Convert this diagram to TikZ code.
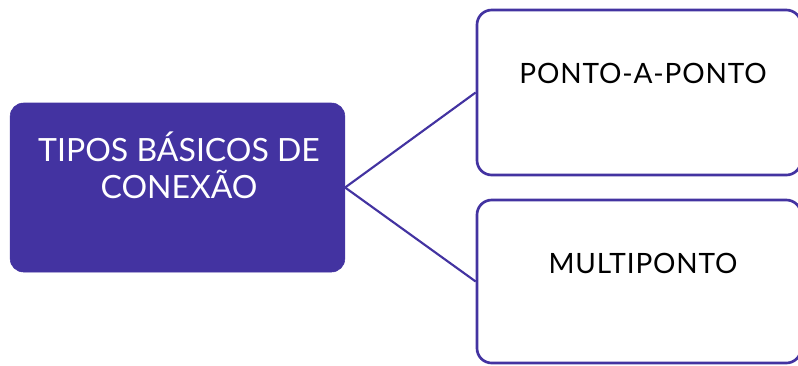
\documentclass[tikz,border=0pt]{standalone}
\usepackage{fontspec}
\setmainfont{Lato}
\newfontfamily\spacedfont{Lato}[LetterSpace=3]
\usepackage{xcolor}
\usetikzlibrary{positioning}
\definecolor{conpurple}{HTML}{4333A1}

\begin{document}
\begin{tikzpicture}[x=0.75pt,y=-0.75pt]
    % 
    \useasboundingbox (0,0) rectangle (798,365);

    % 
    \node[draw=conpurple,fill=conpurple,rounded corners=10pt,inner sep=0pt,
          minimum width=251pt,minimum height=126.75pt] (tipos) at (177.5,187.5) {};
    \node[draw=conpurple,line width=2pt,fill=white,rounded corners=11pt,inner sep=0pt,
          minimum width=243pt,minimum height=123.75pt] (ponto) at (639,92.5) {};
    \node[draw=conpurple,line width=2pt,fill=white,rounded corners=11pt,inner sep=0pt,
          minimum width=243pt,minimum height=122.25pt] (multi) at (639,281.5) {};

    % 
    \node[anchor=base,align=center,white,font=\fontsize{24}{27.75}\selectfont] (tiposlabel)
        at (179,198) {TIPOS BÁSICOS DE\\CONEXÃO};
    \node[anchor=base,font=\spacedfont\fontsize{21}{25}\selectfont] (pontolabel) at (643,83) {PONTO-A-PONTO};
    \node[anchor=base,font=\spacedfont\fontsize{21}{25}\selectfont] (multilabel) at (643,273) {MULTIPONTO};

    % 
    \foreach \target in {ponto,multi}
        \draw[conpurple,line width=1.6pt] (tipos.east) -- (\target.west);
\end{tikzpicture}
\end{document}
